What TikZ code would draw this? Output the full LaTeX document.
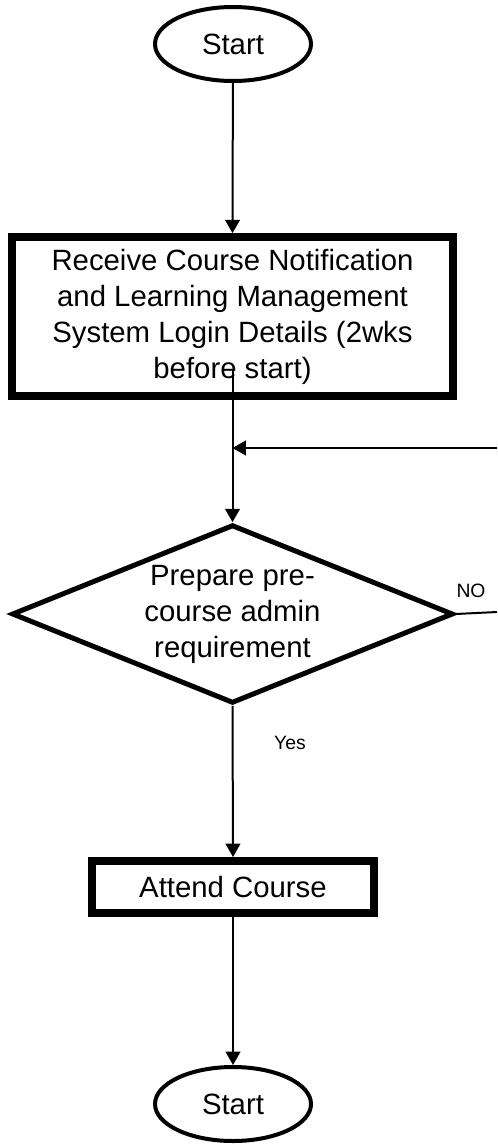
\documentclass[tikz,border=0pt]{standalone}
\usepackage{fontspec}
\setmainfont{Liberation Sans}
\usetikzlibrary{shapes.geometric,arrows.meta}

\begin{document}
\begin{tikzpicture}[x=0.75pt,y=-0.75pt,
    terminal/.style={draw,ellipse,line width=3pt,minimum width=117pt,minimum height=55.5pt,
                     inner sep=0pt,font=\fontsize{22}{26}\selectfont},
    process/.style={draw,rectangle,line width=6pt,inner sep=0pt,align=center,
                    font=\fontsize{22}{27}\selectfont},
    decision/.style={draw,diamond,line width=3.75pt,aspect=2.45,inner sep=0pt,align=center,
                     minimum width=331pt,minimum height=134pt,font=\fontsize{22}{27}\selectfont},
    flow/.style={line width=1.5pt,-{Triangle[length=10pt,width=11pt]}},
    tag/.style={font=\fontsize{14.5}{17}\selectfont}]
\useasboundingbox (0,0) rectangle (497,1146);
% nodes
\node[terminal] (start) at (233,44) {Start};
\node[process,minimum width=331pt,minimum height=119pt] (recv) at (232.5,316.5)
    {Receive Course Notification\\and Learning Management\\System Login Details (2wks\\before start)};
\node[decision] (prep) at (232.5,614) {Prepare pre-\\course admin\\requirement};
\node[process,minimum width=211.5pt,minimum height=39pt] (attend) at (233,887) {Attend Course};
\node[terminal] (stop) at (233,1104) {Start};
% loop back
\coordinate (loopin) at (497,448);
\coordinate (merge) at (232.5,448);
\coordinate (noend) at (497,612);
% connectors
\draw[flow] (start) -- (recv.north);
\draw[flow] ([yshift=23pt]recv.south) -- (prep.north);
\draw[flow] (loopin) -- (merge);
\draw[line width=1.5pt] (prep.east) -- (noend);
\node[tag] (no) at (471,591) {NO};
\draw[flow] (prep.south) -- (attend.north);
\node[tag] (yes) at (290,743) {Yes};
\draw[flow] (attend.south) -- (stop.north);
\end{tikzpicture}
\end{document}
